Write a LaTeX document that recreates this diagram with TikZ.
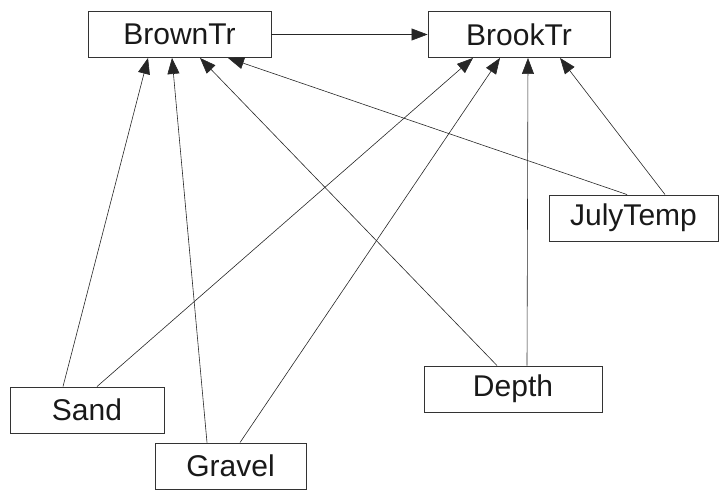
\documentclass[tikz,border=0pt]{standalone}
\usepackage{fontspec}
\setmainfont{Liberation Sans}
\usetikzlibrary{arrows.meta, positioning}

\begin{document}
\begin{tikzpicture}[x=1pt, y=-1pt,
    var/.style={draw=black!80, line width=0.9pt, minimum height=46pt, inner sep=0pt,
        font=\fontsize{30}{35}\selectfont, text=black!90},
    link/.style={draw=black!85, line width=0.6pt, -{Triangle[length=16pt,width=12pt]}}]

\useasboundingbox (0,0) rectangle (725,493);

\node[var, minimum width=183pt] (brown) at (179.5,34.5) {BrownTr};
\node[var, minimum width=182pt] (brook) at (519,34.5) {BrookTr};
\node[var, minimum width=169pt] (july) at (633.5,218) {JulyTemp};
\node[var, minimum width=178pt] (depth) at (513,389) {Depth};
\node[var, minimum width=154pt] (sand) at (87,410) {Sand};
\node[var, minimum width=151pt] (gravel) at (230.5,466) {Gravel};

\draw[link] (brown) -- (brook);

% into BrownTr
\draw[link] ([xshift=-24pt]sand.north) -- ([xshift=-31.5pt]brown.south);
\draw[link] ([xshift=-23.5pt]gravel.north) -- ([xshift=-7.5pt]brown.south);
\draw[link] ([xshift=-16pt]depth.north) -- ([xshift=20.5pt]brown.south);
\draw[link] ([xshift=-6.5pt]july.north) -- ([xshift=48.5pt]brown.south);

% into BrookTr
\draw[link] ([xshift=10pt]sand.north) -- ([xshift=-46pt]brook.south);
\draw[link] ([xshift=9.5pt]gravel.north) -- ([xshift=-19pt]brook.south);
\draw[link] ([xshift=14pt]depth.north) -- ([xshift=9pt]brook.south);
\draw[link] ([xshift=31.5pt]july.north) -- ([xshift=41pt]brook.south);

\end{tikzpicture}
\end{document}
